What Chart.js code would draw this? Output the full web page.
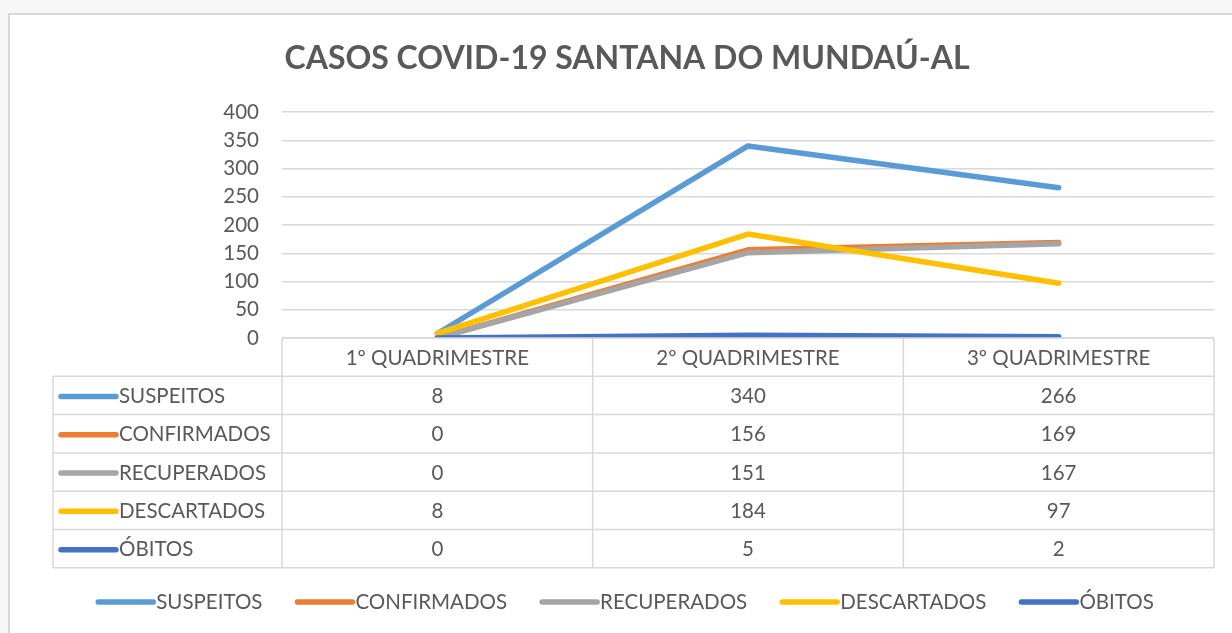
<!DOCTYPE html>
<html><head><meta charset="utf-8">
<script src="https://cdn.jsdelivr.net/npm/chart.js@4.4.0/dist/chart.umd.min.js"></script>
<style>html,body{margin:0;padding:0;background:#f7f7f7;overflow:hidden}#wrap{position:absolute;left:0;top:0;width:1232px;height:633px}</style>
</head><body><div id="wrap"><canvas id="c" width="1232" height="633"></canvas></div>
<script>
const chartTitle = "CASOS COVID-19 SANTANA DO MUNDAÚ-AL";
const categories = ["1º QUADRIMESTRE", "2º QUADRIMESTRE", "3º QUADRIMESTRE"];
const suspeitos = [8, 340, 266];
const confirmados = [0, 156, 169];
const recuperados = [0, 151, 167];
const descartados = [8, 184, 97];
const obitos = [0, 5, 2];
const seriesNames = ["SUSPEITOS", "CONFIRMADOS", "RECUPERADOS", "DESCARTADOS", "ÓBITOS"];
const seriesValues = [suspeitos, confirmados, recuperados, descartados, obitos];
const seriesColors = ["#5B9BD5", "#ED7D31", "#A5A5A5", "#FFC000", "#4472C4"];
const yMin = 0, yMax = 400, yStep = 50;

const FONT = "Lato";
const FS = 20.5;
const TXT = "#595959";
const GRID = "#d9d9d9";
const ROW_H = 38.3;

function sampleLine(ctx, x1, x2, y, color) {
  ctx.save();
  ctx.strokeStyle = color; ctx.lineWidth = 5.5; ctx.lineCap = "round";
  ctx.beginPath(); ctx.moveTo(x1, y); ctx.lineTo(x2, y); ctx.stroke();
  ctx.restore();
}

const framePlugin = {
  id: "frame",
  beforeDraw(chart) {
    const ctx = chart.ctx;
    ctx.save();
    ctx.fillStyle = "#f7f7f7"; ctx.fillRect(0, 0, chart.width, chart.height);
    ctx.fillStyle = "#ffffff"; ctx.fillRect(8, 13, chart.width, chart.height);
    ctx.strokeStyle = GRID; ctx.lineWidth = 2;
    ctx.beginPath(); ctx.moveTo(9, chart.height + 5); ctx.lineTo(9, 14); ctx.lineTo(chart.width + 5, 14); ctx.stroke();
    ctx.fillStyle = TXT; ctx.font = "bold 32px " + FONT;
    ctx.textAlign = "center"; ctx.textBaseline = "middle";
    ctx.fillText(chartTitle, 627, 59);
    ctx.restore();
  },
  afterDraw(chart) {
    const ctx = chart.ctx, a = chart.chartArea, xs = chart.scales.x;
    const colW = (a.right - a.left) / categories.length;
    const top = a.bottom, tableLeft = 53;
    const nRows = seriesNames.length;
    const bottom = top + ROW_H * (nRows + 1);
    ctx.save();
    ctx.strokeStyle = GRID; ctx.lineWidth = 1.5;
    ctx.beginPath();
    ctx.moveTo(a.left, top); ctx.lineTo(a.right, top);
    for (let r = 1; r <= nRows + 1; r++) {
      const y = top + ROW_H * r;
      ctx.moveTo(tableLeft, y); ctx.lineTo(a.right, y);
    }
    ctx.moveTo(tableLeft, top + ROW_H); ctx.lineTo(tableLeft, bottom);
    for (let c = 0; c <= categories.length; c++) {
      const x = a.left + colW * c;
      ctx.moveTo(x, top); ctx.lineTo(x, bottom);
    }
    ctx.stroke();
    ctx.fillStyle = TXT; ctx.font = FS + "px " + FONT;
    ctx.textBaseline = "middle"; ctx.textAlign = "center";
    categories.forEach((c, i) => ctx.fillText(c, xs.getPixelForValue(i), top + ROW_H / 2 + 1));
    seriesNames.forEach((n, r) => {
      const y = top + ROW_H * (r + 1.5) + 1;
      sampleLine(ctx, 61, 116, y, seriesColors[r]);
      ctx.fillStyle = TXT; ctx.textAlign = "left";
      ctx.fillText(n, 119, y);
      ctx.textAlign = "center";
      seriesValues[r].forEach((v, i) => ctx.fillText(String(v), xs.getPixelForValue(i), y));
    });
    const ly = 602, lineLen = 55, gap = 3, spacing = 35;
    const widths = seriesNames.map(n => ctx.measureText(n).width);
    const total = widths.reduce((s, w) => s + lineLen + gap + w, 0) + spacing * (nRows - 1);
    let x = 626 - total / 2;
    ctx.textAlign = "left";
    seriesNames.forEach((n, i) => {
      sampleLine(ctx, x, x + lineLen, ly, seriesColors[i]);
      ctx.fillStyle = TXT;
      ctx.fillText(n, x + lineLen + gap, ly);
      x += lineLen + gap + widths[i] + spacing;
    });
    ctx.restore();
  }
};

const yTickValues = [];
for (let v = yMin; v <= yMax; v += yStep) yTickValues.push(v);

new Chart(document.getElementById("c"), {
  type: "line",
  data: {
    labels: categories,
    datasets: seriesNames.map((n, i) => ({
      label: n,
      data: seriesValues[i],
      borderColor: seriesColors[i],
      backgroundColor: seriesColors[i],
      borderWidth: 5.5,
      pointRadius: 0,
      tension: 0,
      borderCapStyle: "round",
      borderJoinStyle: "round",
      fill: false,
      order: seriesNames.length - i
    }))
  },
  options: {
    responsive: false,
    animation: false,
    devicePixelRatio: 1,
    layout: { padding: { left: 0, right: 18, top: 112, bottom: 295 } },
    plugins: { legend: { display: false }, title: { display: false }, tooltip: { enabled: false } },
    scales: {
      x: {
        offset: true,
        grid: { display: false },
        border: { display: false },
        ticks: { display: false },
        afterFit(s) { s.height = 0; }
      },
      y: {
        min: yMin, max: yMax,
        afterBuildTicks(s) { s.ticks = yTickValues.map(v => ({ value: v })); },
        afterFit(s) { s.width = 282; },
        grid: { color: GRID, lineWidth: 1.5, drawTicks: false },
        border: { display: false },
        ticks: { color: TXT, font: { family: FONT, size: FS }, padding: 23 }
      }
    }
  },
  plugins: [framePlugin]
});
</script></body></html>
